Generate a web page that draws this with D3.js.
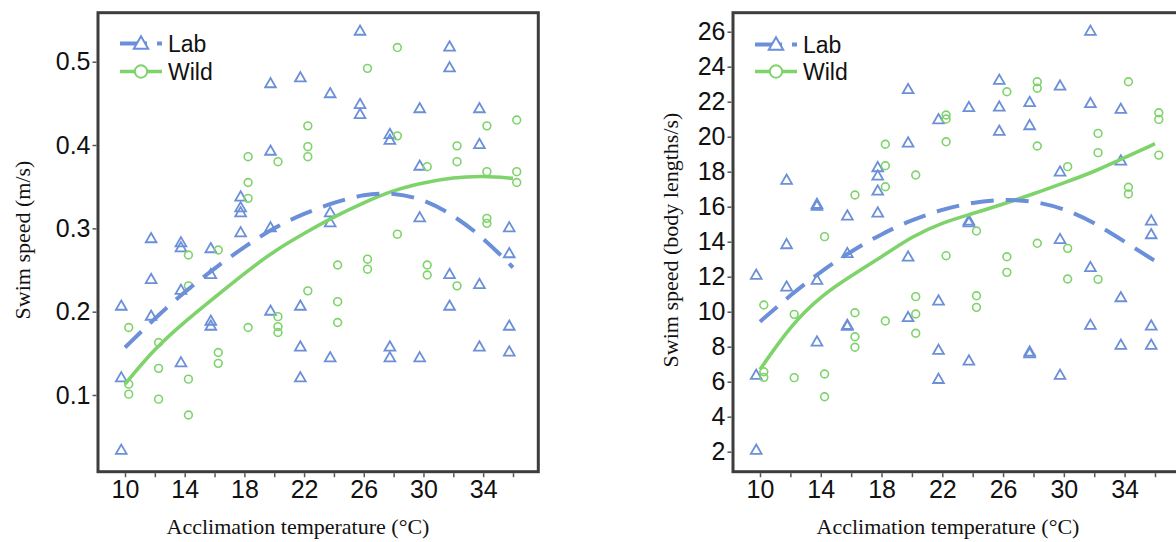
<!DOCTYPE html>
<html><head><meta charset="utf-8">
<script src="https://cdn.jsdelivr.net/npm/d3@7"></script>
<style>body{margin:0;background:#fff}svg{display:block}</style>
</head><body>
<script>
// ---- data ----
const temps = [10,12,14,16,18,20,22,24,26,28,30,32,34,36];
const xTickLabels = [10,14,18,22,26,30,34];
const yTicksMs = [0.1,0.2,0.3,0.4,0.5];
const yTicksBl = [2,4,6,8,10,12,14,16,18,20,22,24,26];
const seriesNames = ["Lab","Wild"];

const labMs = [
 [0.207,0.121,0.034],[0.288,0.239,0.195],[0.283,0.277,0.226,0.139],[0.276,0.245,0.189,0.183],
 [0.338,0.325,0.319,0.295],[0.474,0.393,0.301,0.201],[0.481,0.207,0.158,0.121],[0.462,0.319,0.307,0.145],
 [0.537,0.449,0.437],[0.413,0.406,0.158,0.145],[0.444,0.375,0.313,0.145],[0.518,0.493,0.245,0.207],
 [0.444,0.401,0.233,0.158],[0.301,0.270,0.183,0.152]];
const wildMs = [
 [0.181,0.113,0.101],[0.163,0.132,0.095],[0.268,0.231,0.119,0.076],[0.274,0.151,0.138],
 [0.386,0.355,0.336,0.181],[0.380,0.194,0.182,0.175],[0.423,0.398,0.386,0.225],[0.256,0.212,0.187],
 [0.492,0.263,0.251],[0.517,0.411,0.293],[0.374,0.256,0.244],[0.399,0.380,0.231],
 [0.423,0.368,0.312,0.306],[0.430,0.368,0.355]];
const labFitMs  = [0.157,0.192,0.224,0.252,0.278,0.301,0.318,0.331,0.341,0.343,0.335,0.316,0.289,0.253];
const wildFitMs = [0.113,0.156,0.188,0.217,0.246,0.273,0.294,0.314,0.331,0.346,0.355,0.361,0.363,0.360];

const labBl = [
 [12.1,6.38,2.1],[17.53,13.85,11.43],[16.15,16.04,11.81,8.29],[15.49,13.34,9.24,9.18],
 [18.25,17.77,16.91,15.66],[22.71,19.66,13.14,9.68],[20.99,10.63,7.81,6.15],[21.68,15.2,15.1,7.2],
 [23.24,21.71,20.33],[21.97,20.65,7.71,7.62],[22.91,18.0,14.14,6.38],[26.04,21.91,12.54,9.24],
 [21.58,18.63,10.82,8.1],[15.2,14.42,9.2,8.1]];
const wildBl = [
 [10.38,6.57,6.25],[9.85,6.23],[14.29,6.44,5.14],[16.67,9.94,8.57,7.97],
 [19.57,18.34,17.14,9.47],[17.81,10.86,9.87,8.77],[21.24,21.01,19.71,13.2],[14.61,10.91,10.25],
 [22.57,13.14,12.25],[23.14,22.77,19.47,13.91],[18.29,13.62,11.87],[20.19,19.09,11.85],
 [23.14,17.11,16.73],[21.37,20.99,18.95]];
const labFitBl  = [9.43,10.95,12.3,13.45,14.45,15.25,15.85,16.25,16.42,16.33,15.9,15.1,14.0,12.9];
const wildFitBl = [6.7,9.2,10.9,12.05,13.13,14.3,15.1,15.6,16.15,16.73,17.36,18.0,18.8,19.6];

// ---- style ----
const LAB = "#6b8fd8", WILD = "#7ed36a", FRAME = "#3d3d3d";
const dodge = 0.25;

const svg = d3.select("body").append("svg").attr("width",1176).attr("height",542);

function panel(o){
  const g = svg.append("g");
  const x = d3.scaleLinear().domain([10,36]).range(o.xr);
  const y = d3.scaleLinear().domain(o.yd).range(o.yr);
  // points
  const pts = (vals, off) => temps.flatMap((t,i)=>vals[i].map(v=>({t:t+off,v})));
  const tri = d3.symbol().type(d3.symbolTriangle).size(50);
  g.append("g").selectAll("path").data(pts(o.lab,-dodge)).join("path")
    .attr("d",tri).attr("transform",d=>`translate(${x(d.t)},${y(d.v)+0.8})`)
    .attr("fill","none").attr("stroke",LAB).attr("stroke-width",1.8);
  g.append("g").selectAll("circle").data(pts(o.wild,dodge)).join("circle")
    .attr("cx",d=>x(d.t)).attr("cy",d=>y(d.v)).attr("r",3.9)
    .attr("fill","none").attr("stroke",WILD).attr("stroke-width",1.6);
  // fitted curves
  const line = d3.line().x((d,i)=>x(temps[i])).y(d=>y(d)).curve(d3.curveBasis);
  g.append("path").attr("d",line(o.wildFit)).attr("fill","none")
    .attr("stroke",WILD).attr("stroke-width",3.6);
  g.append("path").attr("d",line(o.labFit)).attr("fill","none")
    .attr("stroke",LAB).attr("stroke-width",4).attr("stroke-dasharray","23,12");
  // frame
  g.append("rect").attr("x",o.frame[0]).attr("y",o.frame[1])
    .attr("width",o.frame[2]-o.frame[0]).attr("height",o.frame[3]-o.frame[1])
    .attr("fill","none").attr("stroke",FRAME).attr("stroke-width",3);
  // axes
  const xa = g.append("g").attr("transform",`translate(0,${o.frame[3]+1.5})`)
    .call(d3.axisBottom(x).tickValues(temps).tickSize(4).tickPadding(3)
      .tickFormat(d=>xTickLabels.includes(d)?d:""));
  const ya = g.append("g").attr("transform",`translate(${o.frame[0]-1.5},0)`)
    .call(d3.axisLeft(y).tickValues(o.yticks).tickSize(4).tickPadding(2)
      .tickFormat(o.fmt));
  [xa,ya].forEach(a=>{
    a.select(".domain").remove();
    a.selectAll("line").attr("stroke","#555").attr("stroke-width",1.5);
    a.selectAll("text").attr("font-family","'Liberation Sans', Arial, sans-serif")
      .attr("font-size",25).attr("fill","#111");
  });
  // titles
  g.append("text").attr("x",o.xt).attr("y",534).attr("text-anchor","middle")
    .attr("font-family","'Liberation Serif','Times New Roman',serif").attr("font-size",22)
    .attr("fill","#111").text("Acclimation temperature (°C)");
  g.append("text").attr("transform",`translate(${o.yt[0]},${o.yt[1]}) rotate(-90)`)
    .attr("text-anchor","middle")
    .attr("font-family","'Liberation Serif','Times New Roman',serif").attr("font-size",22)
    .attr("fill","#111").text(o.ytitle);
  // legend
  const L = o.leg;
  const lg = g.append("g");
  lg.append("line").attr("x1",L[0]).attr("x2",L[1]).attr("y1",L[2]).attr("y2",L[2])
    .attr("stroke",LAB).attr("stroke-width",4).attr("stroke-dasharray","27,10");
  lg.append("path").attr("d",d3.symbol().type(d3.symbolTriangle).size(90))
    .attr("transform",`translate(${(L[0]+L[1])/2},${L[2]+1})`)
    .attr("fill","#fff").attr("stroke",LAB).attr("stroke-width",2);
  lg.append("line").attr("x1",L[0]).attr("x2",L[1]).attr("y1",L[3]).attr("y2",L[3])
    .attr("stroke",WILD).attr("stroke-width",3.6);
  lg.append("circle").attr("cx",(L[0]+L[1])/2).attr("cy",L[3]).attr("r",6.2)
    .attr("fill","#fff").attr("stroke",WILD).attr("stroke-width",2);
  lg.selectAll("text").data(seriesNames).join("text")
    .attr("x",L[1]+6).attr("y",(d,i)=>[L[2],L[3]][i]+8)
    .attr("font-family","'Liberation Sans', Arial, sans-serif").attr("font-size",23)
    .attr("fill","#111").text(d=>d);
}

panel({xr:[125,513], yd:[0.1,0.5], yr:[395,61.7], frame:[98,12.7,538.3,471.7],
  lab:labMs, wild:wildMs, labFit:labFitMs, wildFit:wildFitMs,
  yticks:yTicksMs, fmt:d3.format(".1f"), xt:298, yt:[30,240], ytitle:"Swim speed (m/s)",
  leg:[120,162,43.5,71.5]});
panel({xr:[760,1155], yd:[2,26], yr:[451.7,31.7], frame:[733,12.7,1181,471.7],
  lab:labBl, wild:wildBl, labFit:labFitBl, wildFit:wildFitBl,
  yticks:yTicksBl, fmt:d3.format("d"), xt:948, yt:[678,240], ytitle:"Swim speed (body lengths/s)",
  leg:[755,797,44.5,71.5]});
</script>
</body></html>
